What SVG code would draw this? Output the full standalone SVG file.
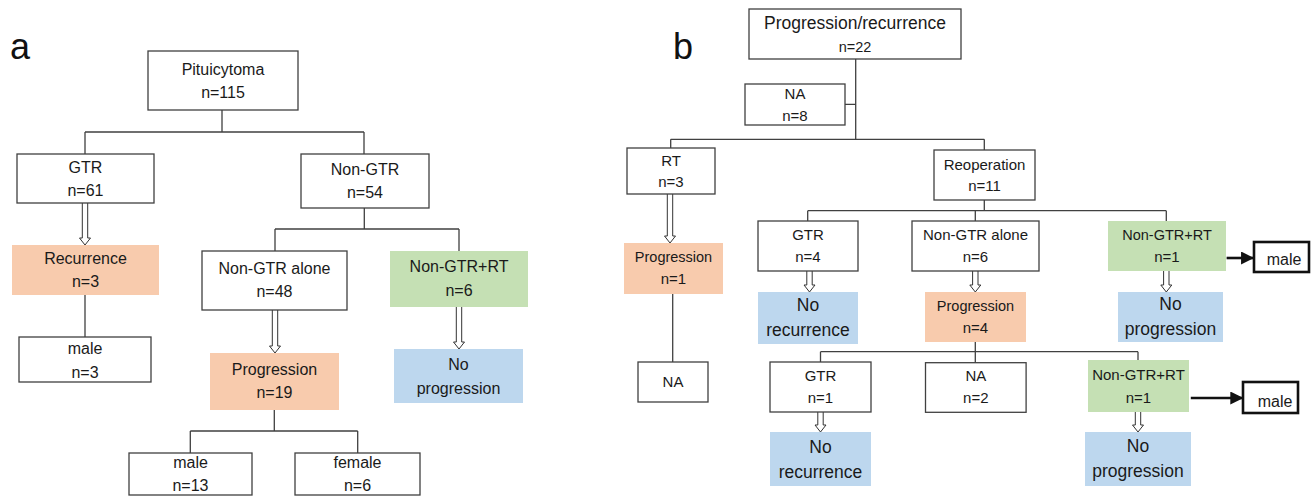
<svg xmlns="http://www.w3.org/2000/svg" width="1314" height="496" viewBox="0 0 1314 496">
  <style>
    text { font-family: "Liberation Sans", Arial, sans-serif; fill: #1a1a1a; text-anchor: middle; }
    .t16 { font-size: 16px; }
    .t15 { font-size: 15px; }
    .t14 { font-size: 14.5px; }
    .t17 { font-size: 17.5px; }
    .lbl { font-size: 36px; text-anchor: start; fill: #111; }
    .box { fill: #ffffff; stroke: #404040; stroke-width: 1.3; }
    .orange { fill: #F8CBAD; }
    .green { fill: #C5E0B4; }
    .blue { fill: #BDD7EE; }
    .bold { fill: #ffffff; stroke: #111; stroke-width: 2.6; }
    .line { fill: none; stroke: #404040; stroke-width: 1.3; }
    .dbl { fill: #ffffff; stroke: #333; stroke-width: 1; }
    .thick { fill: none; stroke: #111; stroke-width: 2.6; }
  </style>
  <defs>
    <marker id="head" markerWidth="5" markerHeight="5" refX="4.6" refY="2.5" orient="auto" markerUnits="strokeWidth">
      <path d="M0,0 L5,2.5 L0,5 Z" fill="#111"/>
    </marker>
  </defs>

  <!-- panel labels -->
  <text class="lbl" x="10" y="59">a</text>
  <text class="lbl" x="673" y="59">b</text>

  <!-- ===== connectors ===== -->
  <g id="connectors">
    <!-- panel a tree lines -->
    <path class="line" d="M222,110 V132 M85,132 H364 M85,132 V154 M364,132 V154"/>
    <path class="line" d="M85,295 V337"/>
    <path class="line" d="M364.3,208 V229 M275,229 H459 M275,229 V251 M459,229 V251"/>
    <path class="line" d="M274.3,410 V431 M190.3,431 H357.7 M190.3,431 V453 M357.7,431 V453"/>
    <!-- panel a hollow double arrows -->
    <polyline class="dbl" points="82.3,203 82.3,238 79.5,238 85,245 90.5,238 87.7,238 87.7,203"/>
    <polyline class="dbl" points="272.3,310 272.3,346 269.5,346 275,353 280.5,346 277.7,346 277.7,310"/>
    <polyline class="dbl" points="456.3,307 456.3,342 453.5,342 459,349 464.5,342 461.7,342 461.7,307"/>

    <!-- panel b tree lines -->
    <path class="line" d="M855.7,59 V139.3 M845,104.3 H855.7 M670.7,139.3 H984.3 M670.7,139.3 V148 M984.3,139.3 V150"/>
    <path class="line" d="M984.3,200 V210.7 M807.7,210.7 H1166.3 M807.7,210.7 V221 M975.3,210.7 V221 M1166.3,210.7 V221"/>
    <path class="line" d="M672.7,294 V362"/>
    <path class="line" d="M975.3,342 V362.7 M820.5,351.7 H1138 M820.5,351.7 V362 M1138,351.7 V360"/>
    <!-- panel b hollow double arrows -->
    <polyline class="dbl" points="667.3,194 667.3,236 664.5,236 670,243 675.5,236 672.7,236 672.7,194"/>
    <polyline class="dbl" points="806.8,271 806.8,285 804,285 809.5,292 815,285 812.2,285 812.2,271"/>
    <polyline class="dbl" points="972.6,271 972.6,285 969.8,285 975.3,292 980.8,285 978,285 978,271"/>
    <polyline class="dbl" points="1163.6,271 1163.6,285 1160.8,285 1166.3,292 1171.8,285 1169,285 1169,271"/>
    <polyline class="dbl" points="817.8,412 817.8,425 815,425 820.5,432 826,425 823.2,425 823.2,412"/>
    <polyline class="dbl" points="1135.3,412 1135.3,425 1132.5,425 1138,432 1143.5,425 1140.7,425 1140.7,412"/>
    <!-- solid arrows to the sex boxes -->
    <path class="thick" d="M1226.6,258 H1253" marker-end="url(#head)"/>
    <path class="thick" d="M1190.8,398 H1242.3" marker-end="url(#head)"/>
  </g>

  <!-- ===== panel a nodes ===== -->
  <g id="a-pituicytoma">
    <rect class="box" x="148" y="51" width="150" height="59"/>
    <text class="t16" x="223" y="74.5">Pituicytoma</text>
    <text class="t16" x="223" y="97.5">n=115</text>
  </g>
  <g id="a-gtr">
    <rect class="box" x="17" y="154" width="137" height="49"/>
    <text class="t16" x="85.5" y="172.5">GTR</text>
    <text class="t16" x="85.5" y="195.5">n=61</text>
  </g>
  <g id="a-nongtr">
    <rect class="box" x="301" y="154" width="128" height="54"/>
    <text class="t16" x="365" y="174.5">Non-GTR</text>
    <text class="t16" x="365" y="197.5">n=54</text>
  </g>
  <g id="a-recurrence">
    <rect class="orange" x="12" y="245" width="147" height="50"/>
    <text class="t16" x="85.5" y="264">Recurrence</text>
    <text class="t16" x="85.5" y="287">n=3</text>
  </g>
  <g id="a-male3">
    <rect class="box" x="19" y="337" width="132" height="45"/>
    <text class="t16" x="85" y="353.5">male</text>
    <text class="t16" x="85" y="377.5">n=3</text>
  </g>
  <g id="a-nongtr-alone">
    <rect class="box" x="202" y="251" width="145" height="59"/>
    <text class="t16" x="274.5" y="274">Non-GTR alone</text>
    <text class="t16" x="274.5" y="297">n=48</text>
  </g>
  <g id="a-nongtr-rt">
    <rect class="green" x="390" y="251" width="138" height="56"/>
    <text class="t16" x="459" y="272">Non-GTR+RT</text>
    <text class="t16" x="459" y="295.5">n=6</text>
  </g>
  <g id="a-no-progression">
    <rect class="blue" x="394" y="349" width="129" height="54"/>
    <text class="t16" x="458.5" y="370">No</text>
    <text class="t16" x="458.5" y="394">progression</text>
  </g>
  <g id="a-progression">
    <rect class="orange" x="210" y="353" width="129" height="57"/>
    <text class="t16" x="274.5" y="375">Progression</text>
    <text class="t16" x="274.5" y="398">n=19</text>
  </g>
  <g id="a-male13">
    <rect class="box" x="129" y="453" width="123" height="42"/>
    <text class="t16" x="190.5" y="468">male</text>
    <text class="t16" x="190.5" y="490.5">n=13</text>
  </g>
  <g id="a-female">
    <rect class="box" x="295" y="453" width="125" height="42"/>
    <text class="t16" x="357.5" y="468">female</text>
    <text class="t16" x="357.5" y="490.5">n=6</text>
  </g>

  <!-- ===== panel b nodes ===== -->
  <g id="b-progression-recurrence">
    <rect class="box" x="749" y="9" width="212" height="50"/>
    <text class="t17" x="855" y="28.7">Progression/recurrence</text>
    <text class="t14" x="855" y="51.7">n=22</text>
  </g>
  <g id="b-na8">
    <rect class="box" x="745" y="84" width="100" height="41"/>
    <text class="t15" x="795" y="99">NA</text>
    <text class="t15" x="795" y="120.7">n=8</text>
  </g>
  <g id="b-rt">
    <rect class="box" x="627" y="148" width="88" height="46"/>
    <text class="t15" x="671" y="166">RT</text>
    <text class="t15" x="671" y="187.3">n=3</text>
  </g>
  <g id="b-reoperation">
    <rect class="box" x="934" y="150" width="101" height="50"/>
    <text class="t15" x="984.5" y="169.5">Reoperation</text>
    <text class="t15" x="984.5" y="191">n=11</text>
  </g>
  <g id="b-progression1">
    <rect class="orange" x="624" y="243" width="99" height="51"/>
    <text class="t14" x="673.5" y="262.3">Progression</text>
    <text class="t15" x="673.5" y="284.3">n=1</text>
  </g>
  <g id="b-na-rt">
    <rect class="box" x="638" y="362" width="70" height="40"/>
    <text class="t15" x="673" y="387">NA</text>
  </g>
  <g id="b-gtr4">
    <rect class="box" x="758" y="221" width="100" height="50"/>
    <text class="t15" x="808" y="240">GTR</text>
    <text class="t15" x="808" y="262">n=4</text>
  </g>
  <g id="b-nongtr-alone">
    <rect class="box" x="912" y="221" width="127" height="50"/>
    <text class="t15" x="975.5" y="240">Non-GTR alone</text>
    <text class="t15" x="975.5" y="262">n=6</text>
  </g>
  <g id="b-nongtr-rt1">
    <rect class="green" x="1108" y="221" width="118" height="50"/>
    <text class="t14" x="1167" y="240">Non-GTR+RT</text>
    <text class="t15" x="1167" y="262">n=1</text>
  </g>
  <g id="b-male1">
    <rect class="bold" x="1254" y="242" width="55" height="30"/>
    <text class="t16" x="1284" y="265">male</text>
  </g>
  <g id="b-no-recurrence1">
    <rect class="blue" x="758" y="292" width="100" height="52"/>
    <text class="t17" x="808" y="311">No</text>
    <text class="t17" x="808" y="336">recurrence</text>
  </g>
  <g id="b-progression4">
    <rect class="orange" x="925" y="292" width="101" height="50"/>
    <text class="t14" x="975.5" y="311">Progression</text>
    <text class="t15" x="975.5" y="332.7">n=4</text>
  </g>
  <g id="b-no-progression1">
    <rect class="blue" x="1118" y="292" width="105" height="50"/>
    <text class="t17" x="1170.5" y="310.3">No</text>
    <text class="t17" x="1170.5" y="335.3">progression</text>
  </g>
  <g id="b-gtr1">
    <rect class="box" x="770" y="362" width="101" height="50"/>
    <text class="t15" x="820.5" y="381">GTR</text>
    <text class="t15" x="820.5" y="403">n=1</text>
  </g>
  <g id="b-na2">
    <rect class="box" x="925.5" y="362.7" width="100.6" height="49.6"/>
    <text class="t15" x="975.8" y="381">NA</text>
    <text class="t15" x="975.8" y="403">n=2</text>
  </g>
  <g id="b-nongtr-rt2">
    <rect class="green" x="1088" y="360" width="101" height="52"/>
    <text class="t15" x="1138.5" y="380">Non-GTR+RT</text>
    <text class="t15" x="1138.5" y="402.5">n=1</text>
  </g>
  <g id="b-male2">
    <rect class="bold" x="1243" y="382" width="55" height="31"/>
    <text class="t16" x="1275" y="406.5">male</text>
  </g>
  <g id="b-no-recurrence2">
    <rect class="blue" x="770" y="432" width="101" height="54"/>
    <text class="t17" x="820.5" y="452.7">No</text>
    <text class="t17" x="820.5" y="477.7">recurrence</text>
  </g>
  <g id="b-no-progression2">
    <rect class="blue" x="1085" y="432" width="106" height="54"/>
    <text class="t17" x="1138" y="452">No</text>
    <text class="t17" x="1138" y="476.7">progression</text>
  </g>
</svg>
